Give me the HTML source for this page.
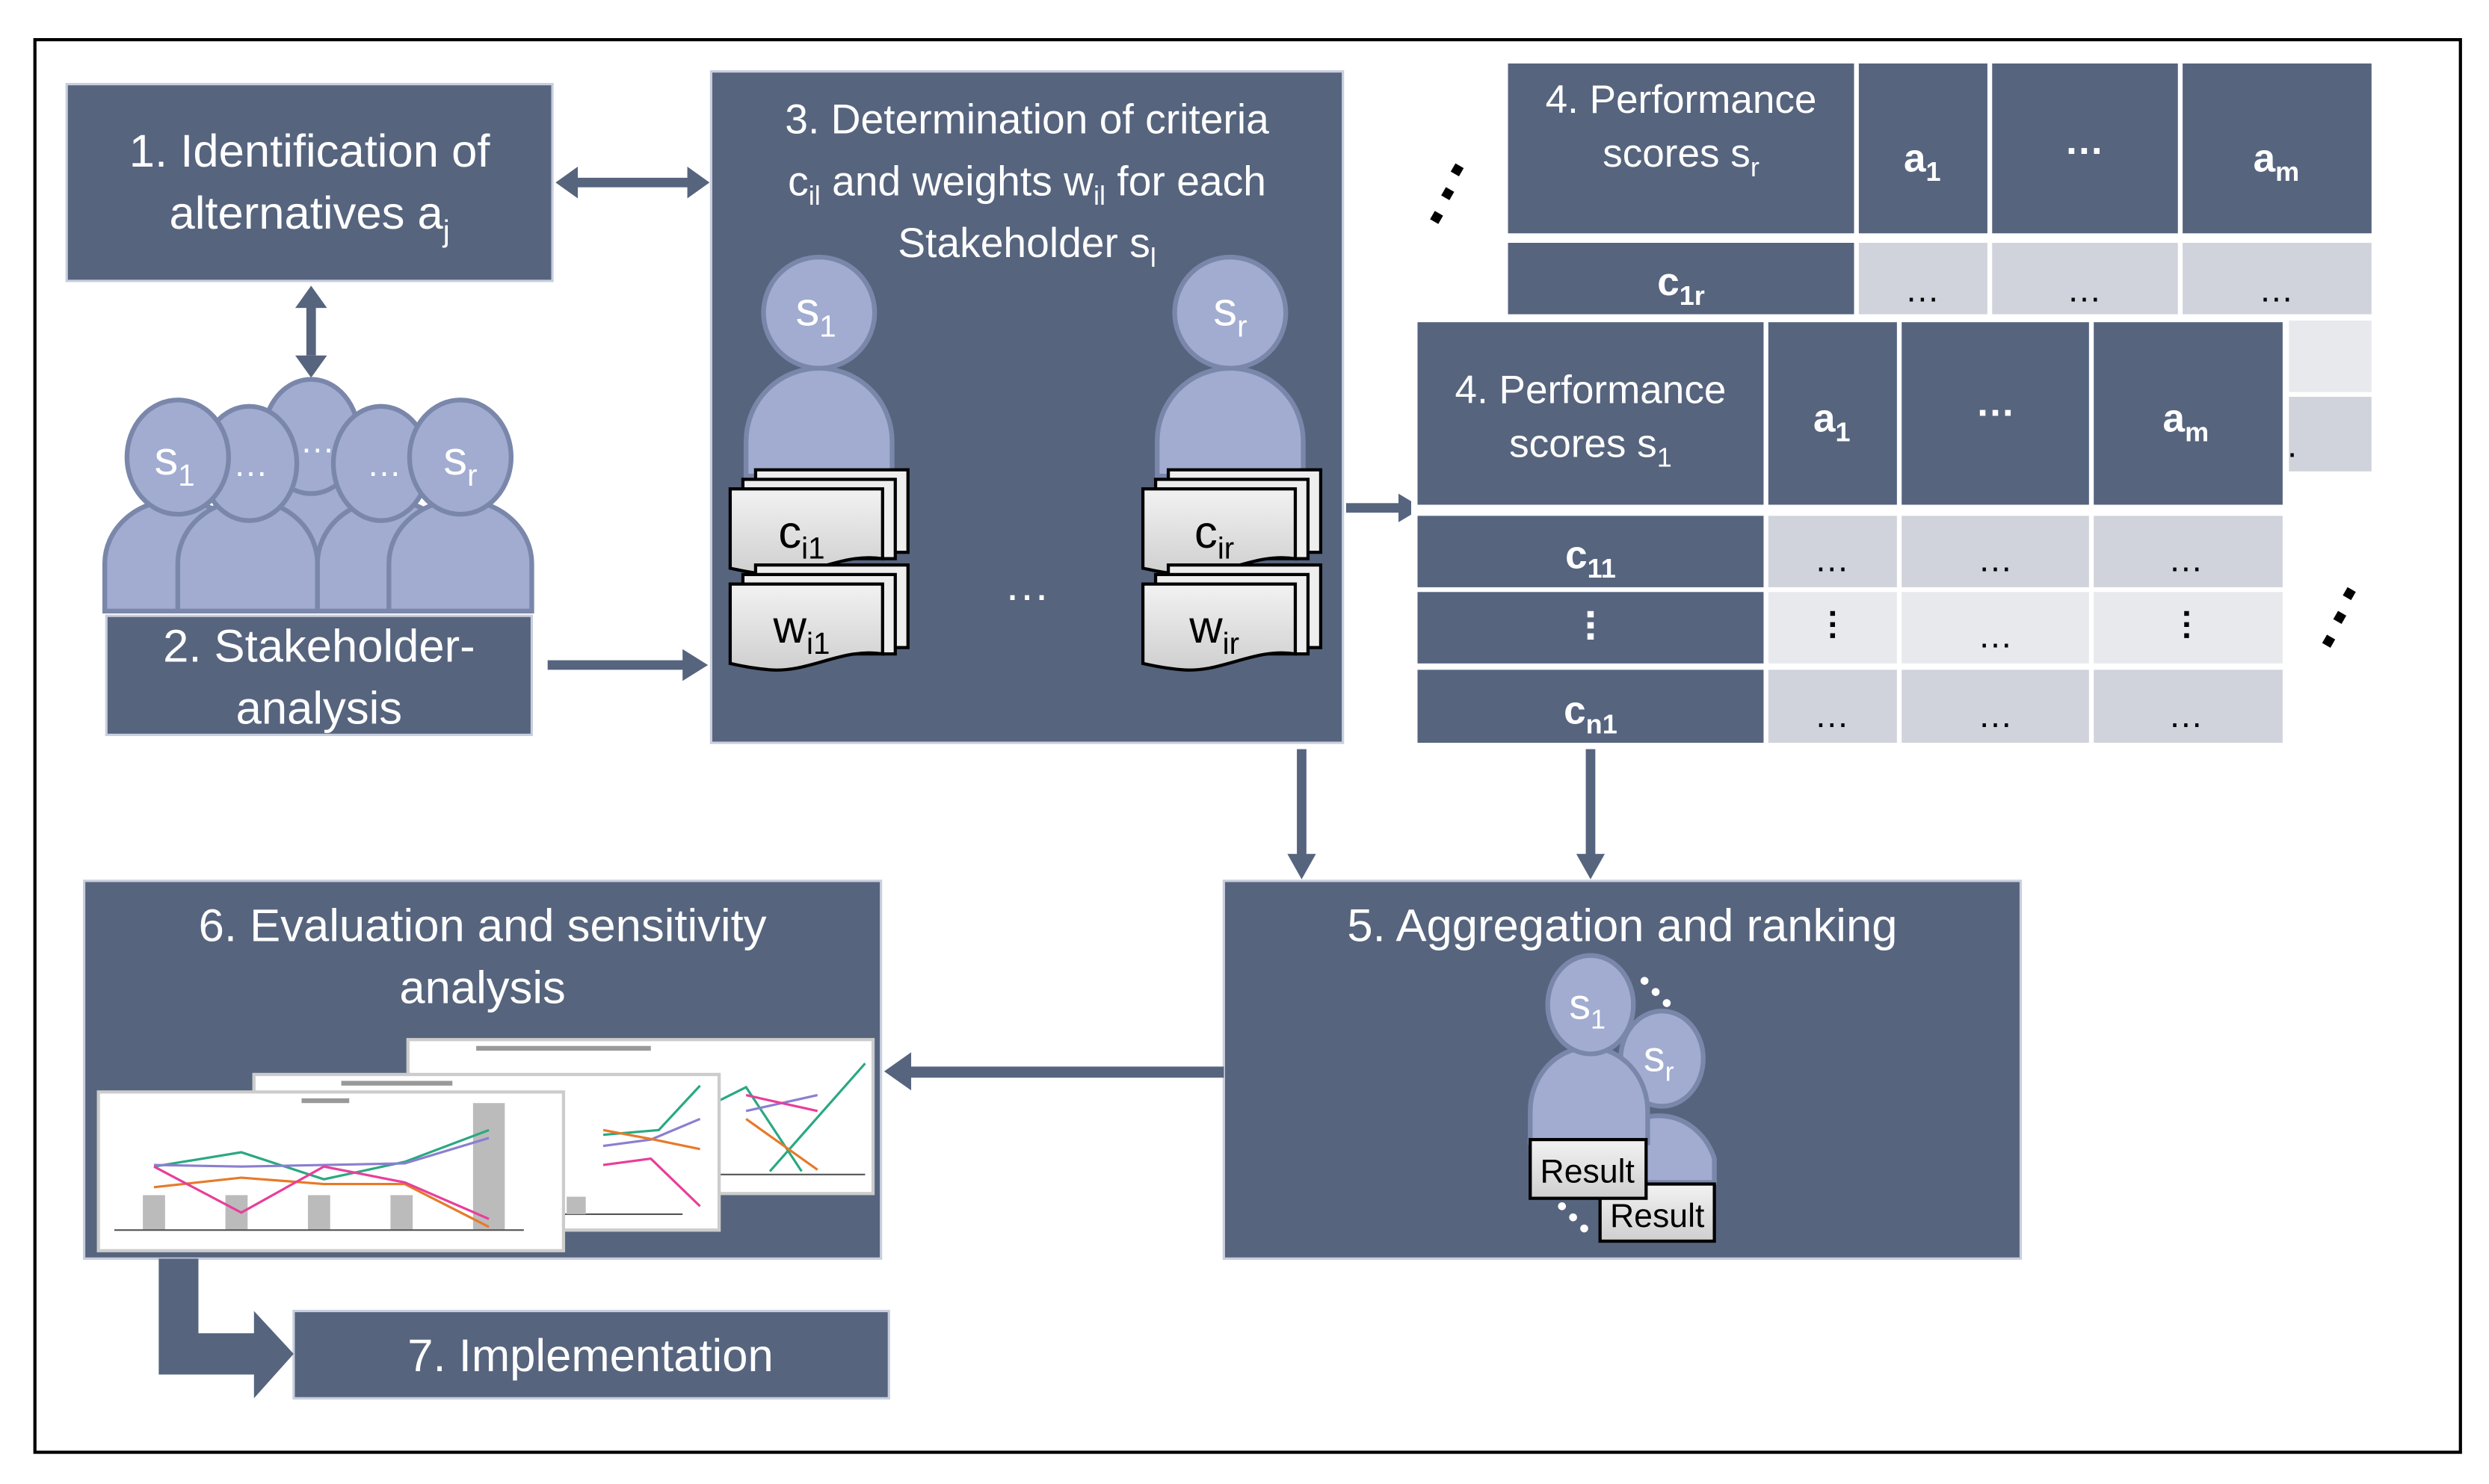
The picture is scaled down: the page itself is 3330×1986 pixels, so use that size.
<!DOCTYPE html>
<html><head><meta charset="utf-8"><style>html,body{margin:0;padding:0;background:#fff}svg{display:block}</style></head>
<body>
<svg width="3330" height="1986" viewBox="0 0 1568 935" preserveAspectRatio="none" xmlns="http://www.w3.org/2000/svg" font-family="Liberation Sans, Arial, sans-serif">
<defs>
<linearGradient id="pg" x1="0" y1="0" x2="0" y2="1"><stop offset="0" stop-color="#f2f2f2"/><stop offset="1" stop-color="#cfcfcf"/></linearGradient>
<g id="doc">
 <path d="M16,-10 H112 V42 H16 Z" fill="#eee" stroke="#000" stroke-width="2"/>
 <path d="M8,-4 H104 V46 H8 Z" fill="#eee" stroke="#000" stroke-width="2"/>
 <path d="M0,2 H96 V46 C70,42 50,58 25,56 C12,55 5,53 0,52 Z" fill="url(#pg)" stroke="#000" stroke-width="2"/>
</g>
</defs>
<rect x="22" y="25" width="1528" height="890" fill="#fff" stroke="#000" stroke-width="2"/>
<g fill="#56647e" stroke="#c9cede" stroke-width="1.5">
<rect x="42" y="53" width="306" height="124"/>
<rect x="67" y="388" width="268" height="75"/>
<rect x="448" y="45" width="398" height="423"/>
<rect x="771" y="555" width="502" height="238"/>
<rect x="53" y="555" width="502" height="238"/>
<rect x="185" y="826" width="375" height="55"/>
</g>
<!-- arrows -->
<g fill="#56647e">
<rect x="362" y="112" width="72" height="6"/><path d="M350,115 L364,105 L364,125 Z M447,115 L433,105 L433,125 Z"/>
<rect x="193" y="192" width="6" height="32"/><path d="M196,180 L186,194 L206,194 Z M196,238 L186,224 L206,224 Z"/>
<rect x="345" y="416" width="88" height="6"/><path d="M446,419 L430,409 L430,429 Z"/>
<rect x="848" y="317" width="35" height="6"/><path d="M896,320 L881,311 L881,329 Z"/>
<rect x="817" y="472" width="6" height="68"/><path d="M820,554 L811,538 L829,538 Z"/>
<rect x="999" y="472" width="6" height="68"/><path d="M1002,554 L993,538 L1011,538 Z"/>
<rect x="572" y="672" width="199" height="7"/><path d="M557,675 L574,663 L574,687 Z"/>
<path d="M100,793 H125 V840 H160 V826 L185,853 L160,881 V866 H100 Z"/>
</g>
<!-- box texts -->
<g fill="#fff" font-size="29" text-anchor="middle">
<text x="195" y="105">1. Identification of</text>
<text x="195" y="144">alternatives a<tspan font-size="19" dy="8">j</tspan></text>
<text x="201" y="417">2. Stakeholder-</text>
<text x="201" y="456">analysis</text>
<text x="647" y="84" font-size="26">3. Determination of criteria</text>
<text x="647" y="123" font-size="26">c<tspan font-size="17" dy="6">il</tspan><tspan dy="-6"> and weights w</tspan><tspan font-size="17" dy="6">il</tspan><tspan dy="-6"> for each</tspan></text>
<text x="647" y="162" font-size="26">Stakeholder s<tspan font-size="17" dy="6">l</tspan></text>
<text x="1022" y="593">5. Aggregation and ranking</text>
<text x="304" y="593">6. Evaluation and sensitivity</text>
<text x="304" y="632">analysis</text>
<text x="372" y="864">7. Implementation</text>
<text x="647" y="378">…</text>
</g>
<!-- stakeholder group -->
<g fill="#a1acd0" stroke="#7a87ab" stroke-width="3">
<path d="M155,385 V330 A43,40 0 0 1 245,330 V385 Z"/>
<ellipse cx="196" cy="275" rx="30" ry="36"/>
<path d="M66,385 V355 A45,40 0 0 1 156,355 V385 Z"/>
<path d="M112,385 V355 A44,40 0 0 1 200,355 V385 Z"/>
<path d="M200,385 V355 A44,40 0 0 1 288,355 V385 Z"/>
<path d="M245,385 V355 A45,40 0 0 1 335,355 V385 Z"/>
<ellipse cx="157" cy="292" rx="30" ry="36"/>
<ellipse cx="240" cy="292" rx="30" ry="36"/>
<ellipse cx="112" cy="288" rx="32" ry="36"/>
<ellipse cx="290" cy="288" rx="32" ry="36"/>
</g>
<g fill="#fff" font-size="30" text-anchor="middle">
<text x="110" y="299">s<tspan font-size="19" dy="7">1</tspan></text>
<text x="158" y="300" font-size="22">…</text>
<text x="200" y="285" font-size="22">…</text>
<text x="242" y="300" font-size="22">…</text>
<text x="290" y="299">s<tspan font-size="19" dy="7">r</tspan></text>
</g>
<!-- box3 persons -->
<g fill="#a1acd0" stroke="#7a87ab" stroke-width="3">
<path d="M470,300 V278 A46,46 0 0 1 562,278 V300 Z"/>
<circle cx="516" cy="197" r="35"/>
<path d="M729,300 V278 A46,46 0 0 1 821,278 V300 Z"/>
<circle cx="775" cy="197" r="35"/>
</g>
<g fill="#fff" font-size="30" text-anchor="middle">
<text x="514" y="205">s<tspan font-size="19" dy="7">1</tspan></text>
<text x="775" y="205">s<tspan font-size="19" dy="7">r</tspan></text>
</g>
<use href="#doc" x="460" y="306"/>
<use href="#doc" x="460" y="366"/>
<use href="#doc" x="720" y="306"/>
<use href="#doc" x="720" y="366"/>
<g font-size="29" text-anchor="middle" fill="#000">
<text x="505" y="345">c<tspan font-size="19" dy="7">i1</tspan></text>
<text x="505" y="405">w<tspan font-size="19" dy="7">i1</tspan></text>
<text x="765" y="345">c<tspan font-size="19" dy="7">ir</tspan></text>
<text x="765" y="405">w<tspan font-size="19" dy="7">ir</tspan></text>
</g>
<!-- back table -->
<g fill="#56647e">
<rect x="950" y="40" width="218" height="107"/><rect x="1171" y="40" width="81" height="107"/><rect x="1255" y="40" width="117" height="107"/><rect x="1375" y="40" width="119" height="107"/>
<rect x="950" y="153" width="218" height="45"/>
</g>
<g fill="#d0d3db"><rect x="1171" y="153" width="81" height="45"/><rect x="1255" y="153" width="117" height="45"/><rect x="1375" y="153" width="119" height="45"/><rect x="1440" y="250" width="54" height="47"/></g>
<rect x="1440" y="202" width="54" height="45" fill="#e8e9ed"/>
<g fill="#fff" font-size="25" text-anchor="middle">
<text x="1059" y="71">4. Performance</text>
<text x="1059" y="105">scores s<tspan font-size="17" dy="6">r</tspan></text>
<text x="1211" y="108" font-weight="bold">a<tspan font-size="17" dy="6">1</tspan></text>
<text x="1313" y="97" font-weight="bold">…</text>
<text x="1434" y="108" font-weight="bold">a<tspan font-size="17" dy="6">m</tspan></text>
<text x="1059" y="186" font-weight="bold">c<tspan font-size="17" dy="6">1r</tspan></text>
</g>
<g fill="#000" font-size="22" text-anchor="middle">
<text x="1211" y="190">…</text><text x="1313" y="190">…</text><text x="1434" y="190">…</text><text x="1444" y="288">.</text>
</g>
<!-- front table -->
<rect x="889" y="200" width="553" height="270" fill="#fff"/>
<g fill="#56647e">
<rect x="893" y="203" width="218" height="115"/><rect x="1114" y="203" width="81" height="115"/><rect x="1198" y="203" width="118" height="115"/><rect x="1319" y="203" width="119" height="115"/>
<rect x="893" y="325" width="218" height="45"/><rect x="893" y="373" width="218" height="45"/><rect x="893" y="422" width="218" height="46"/>
</g>
<g fill="#d0d3db"><rect x="1114" y="325" width="81" height="45"/><rect x="1198" y="325" width="118" height="45"/><rect x="1319" y="325" width="119" height="45"/>
<rect x="1114" y="422" width="81" height="46"/><rect x="1198" y="422" width="118" height="46"/><rect x="1319" y="422" width="119" height="46"/></g>
<g fill="#e8e9ed"><rect x="1114" y="373" width="81" height="45"/><rect x="1198" y="373" width="118" height="45"/><rect x="1319" y="373" width="119" height="45"/></g>
<g fill="#fff" font-size="25" text-anchor="middle">
<text x="1002" y="254">4. Performance</text>
<text x="1002" y="288">scores s<tspan font-size="17" dy="6">1</tspan></text>
<text x="1154" y="272" font-weight="bold">a<tspan font-size="17" dy="6">1</tspan></text>
<text x="1257" y="262" font-weight="bold">…</text>
<text x="1377" y="272" font-weight="bold">a<tspan font-size="17" dy="6">m</tspan></text>
<text x="1002" y="358" font-weight="bold">c<tspan font-size="17" dy="6">11</tspan></text>
<text x="1002" y="456" font-weight="bold">c<tspan font-size="17" dy="6">n1</tspan></text>
</g>
<g fill="#fff"><rect x="1000" y="385" width="4" height="4"/><rect x="1000" y="392" width="4" height="4"/><rect x="1000" y="399" width="4" height="4"/></g>
<g fill="#000"><rect x="1153" y="385" width="3" height="3"/><rect x="1153" y="392" width="3" height="3"/><rect x="1153" y="399" width="3" height="3"/>
<rect x="1376" y="385" width="3" height="3"/><rect x="1376" y="392" width="3" height="3"/><rect x="1376" y="399" width="3" height="3"/></g>
<g fill="#000" font-size="22" text-anchor="middle">
<text x="1154" y="360">…</text><text x="1257" y="360">…</text><text x="1377" y="360">…</text>
<text x="1257" y="408">…</text>
<text x="1154" y="458">…</text><text x="1257" y="458">…</text><text x="1377" y="458">…</text>
</g>
<!-- diagonal dots -->
<g fill="#000">
<rect x="915" y="104" width="6" height="6" transform="rotate(30 918 107)"/><rect x="909" y="119" width="6" height="6" transform="rotate(30 912 122)"/><rect x="902" y="134" width="6" height="6" transform="rotate(30 905 137)"/>
<rect x="1477" y="371" width="6" height="6" transform="rotate(30 1480 374)"/><rect x="1471" y="386" width="6" height="6" transform="rotate(30 1474 389)"/><rect x="1464" y="401" width="6" height="6" transform="rotate(30 1467 404)"/>
</g>
<!-- box5 persons -->
<g fill="#a1acd0" stroke="#7a87ab" stroke-width="3">
<path d="M1010,745 V730 A37,40 0 0 1 1080,730 V745 Z"/>
<ellipse cx="1047" cy="667" rx="26" ry="30"/>
<path d="M964,720 V700 A37,40 0 0 1 1038,700 V720 Z"/>
<ellipse cx="1002" cy="633" rx="27" ry="31"/>
</g>
<g fill="#fff" font-size="27" text-anchor="middle">
<text x="1000" y="642">s<tspan font-size="17" dy="6">1</tspan></text>
<text x="1045" y="675">s<tspan font-size="17" dy="6">r</tspan></text>
</g>
<g fill="#fff"><circle cx="1036" cy="618" r="2.5"/><circle cx="1043" cy="625" r="2.5"/><circle cx="1050" cy="632" r="2.5"/>
<circle cx="984" cy="760" r="2.5"/><circle cx="991" cy="767" r="2.5"/><circle cx="998" cy="774" r="2.5"/></g>
<rect x="1008" y="746" width="72" height="36" fill="url(#pg)" stroke="#000" stroke-width="2"/>
<rect x="964" y="718" width="73" height="37" fill="url(#pg)" stroke="#000" stroke-width="2"/>
<g font-size="21" text-anchor="middle" fill="#000"><text x="1000" y="745">Result</text><text x="1044" y="773">Result</text></g>
<!-- charts -->
<g stroke="#ccc" stroke-width="2">
<rect x="257" y="655" width="293" height="97" fill="#fff"/>
</g>
<g fill="none" stroke-width="1.5">
<polyline points="440,700 470,685 505,738" stroke="#2aa882"/>
</g>
<g stroke="#ccc" stroke-width="2">
<rect x="160" y="677" width="293" height="98" fill="#fff"/>
</g>
<rect x="300" y="659" width="110" height="3" fill="#999"/>
<line x1="345" y1="740" x2="545" y2="740" stroke="#555"/>
<g fill="none" stroke-width="1.5">
<polyline points="485,738 545,670" stroke="#2aa882"/><polyline points="470,700 515,690" stroke="#8a7fd0"/><polyline points="470,705 515,737" stroke="#e67a2a"/><polyline points="470,690 515,700" stroke="#e83e9a"/>
</g>
<rect x="160" y="677" width="293" height="98" fill="#fff" stroke="#ccc" stroke-width="2"/>
<rect x="215" y="681" width="70" height="3" fill="#999"/>
<line x1="175" y1="765" x2="430" y2="765" stroke="#555"/>
<rect x="357" y="754" width="12" height="11" fill="#bbb"/>
<g fill="none" stroke-width="1.5">
<polyline points="380,715 415,712 441,684" stroke="#2aa882"/><polyline points="380,722 410,718 441,705" stroke="#8a7fd0"/><polyline points="380,712 412,718 441,724" stroke="#e67a2a"/><polyline points="380,734 410,730 441,760" stroke="#e83e9a"/>
</g>
<rect x="62" y="688" width="293" height="100" fill="#fff" stroke="#ccc" stroke-width="2"/>
<rect x="190" y="692" width="30" height="3" fill="#999"/>
<g fill="#bbb"><rect x="90" y="753" width="14" height="22"/><rect x="142" y="753" width="14" height="22"/><rect x="194" y="753" width="14" height="22"/><rect x="246" y="753" width="14" height="22"/><rect x="298" y="695" width="20" height="80"/></g>
<line x1="72" y1="775" x2="330" y2="775" stroke="#555" stroke-width="1"/>
<g fill="none" stroke-width="1.5">
<polyline points="97,735 152,726 204,743 255,732 308,712" stroke="#2aa882"/>
<polyline points="97,734 152,735 204,734 255,733 308,717" stroke="#8a7fd0"/>
<polyline points="97,748 152,742 204,746 255,746 308,773" stroke="#e67a2a"/>
<polyline points="97,735 152,764 204,735 255,745 308,768" stroke="#e83e9a"/>
</g>
</svg>
</body></html>
